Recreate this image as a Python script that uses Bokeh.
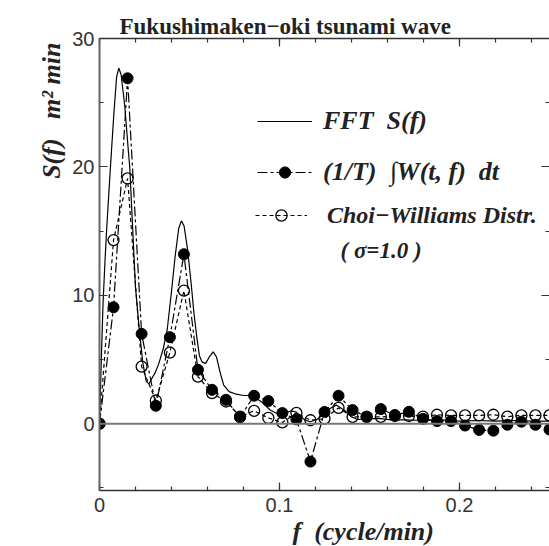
from bokeh.plotting import figure
from bokeh.models import (Range1d, LinearAxis, SingleIntervalTicker, NumeralTickFormatter,
                          CustomJSTickFormatter, Span, Label, Legend, LegendItem, Title)
from bokeh.embed import file_html
from bokeh.resources import INLINE

NB = "\u00a0"  # non-breaking space (SVG would collapse ordinary repeated spaces)

# ---------------- data ----------------
title_text = "Fukushimaken\u2212oki tsunami wave"
x_label_text = "f" + NB * 2 + "(cycle/min)"
y_label_text = "S(f)" + NB * 3 + "m\u00b2" + NB + "min"
legend_fft = "FFT" + NB * 2 + "S(f)"
legend_wig = "(1/T)" + NB * 2 + "\u222bW(t," + NB + "f)" + NB * 2 + "dt"
legend_choi = "Choi\u2212Williams Distr."
legend_sigma = "(" + NB + "\u03c3=1.0" + NB + ")"

# FFT spectrum (solid curve)
fft_f = [0.0, 0.001, 0.002, 0.003, 0.004, 0.006, 0.008, 0.0095, 0.0107, 0.012, 0.014,
         0.016, 0.0168, 0.0187, 0.020, 0.022, 0.024, 0.026, 0.0275, 0.029, 0.031, 0.033,
         0.0355, 0.0376, 0.040, 0.042, 0.044, 0.0455, 0.047, 0.049, 0.051, 0.0524, 0.054,
         0.0555, 0.057, 0.059, 0.061, 0.0632, 0.065, 0.067, 0.069, 0.072, 0.076, 0.080,
         0.085, 0.090, 0.095, 0.100, 0.1065, 0.1093, 0.114, 0.117, 0.121, 0.1283, 0.1315,
         0.136, 0.1398, 0.1435, 0.150, 0.156, 0.162, 0.170, 0.180, 0.190, 0.200, 0.210,
         0.220, 0.230, 0.240, 0.252]
fft_s = [0.0, 5.0, 9.5, 12.5, 15.2, 19.8, 24.2, 27.0, 27.7, 27.2, 24.8,
         21.3, 20.0, 14.4, 10.6, 7.5, 4.8, 3.3, 3.1, 3.5, 4.0, 4.7,
         5.9, 7.3, 10.3, 13.0, 15.2, 15.8, 15.4, 13.5, 10.8, 8.7, 6.8,
         5.3, 4.8, 4.7, 5.2, 5.6, 5.2, 4.0, 3.0, 2.5, 2.3, 2.2,
         2.2, 1.7, 1.05, 0.7, 1.0, 0.9, 0.3, 0.15, 0.35, 1.2, 1.45,
         1.05, 0.55, 0.33, 0.4, 0.4, 0.3, 0.3, 0.25, 0.3, 0.2, 0.25,
         0.2, 0.25, 0.2, 0.2]

# frequencies of the distribution estimates
dist_f = [0.0, 0.0078, 0.0156, 0.0234, 0.0313, 0.0391, 0.0469, 0.0547, 0.0625, 0.0703,
          0.0781, 0.0859, 0.0938, 0.1016, 0.1094, 0.1172, 0.125, 0.1328, 0.1406, 0.1484,
          0.1563, 0.1641, 0.1719, 0.1797, 0.1875, 0.1953, 0.2031, 0.2109, 0.2188, 0.2266,
          0.2344, 0.2422, 0.25]
# (1/T) integral of Wigner distribution (filled circles)
wigner_s = [0.0, 9.07, 26.9, 7.0, 1.4, 6.74, 13.2, 4.2, 2.64, 1.86,
            0.5, 2.18, 1.77, 0.83, 0.34, -2.95, 0.92, 2.18, 1.06, 0.55,
            1.14, 0.68, 0.93, 0.38, 0.21, 0.21, -0.14, -0.48, -0.54, -0.08,
            0.16, -0.08, -0.45]
# Choi-Williams distribution (open circles)
choi_s = [0.0, 14.3, 19.1, 4.45, 1.81, 5.54, 10.36, 3.67, 2.39, 1.73,
          0.55, 1.0, 0.45, 0.1, 0.84, 0.27, 0.4, 1.23, 0.53, 0.53,
          0.53, 0.6, 0.6, 0.55, 0.7, 0.65, 0.65, 0.65, 0.7, 0.55,
          0.65, 0.65, 0.65]

SERIF = "Liberation Serif"
SANS = "Liberation Sans"

p = figure(width=549, height=546, x_range=Range1d(0, 0.25), y_range=Range1d(-5.2, 30),
           output_backend="svg", toolbar_location=None,
           x_axis_location=None, y_axis_location=None,
           min_border_left=99, min_border_right=0, min_border_top=38, min_border_bottom=56)
p.outline_line_color = None
p.grid.visible = False
p.background_fill_color = "white"
p.border_fill_color = "white"

# title
p.title.text = title_text
p.title.align = "left"
p.title.offset = 20
p.title.standoff = 0
p.title.text_font = SERIF
p.title.text_font_style = "bold"
p.title.text_font_size = "23px"
p.title.text_color = "#222222"

blank = CustomJSTickFormatter(code="return ''")


def style_axis(ax, labels=True):
    ax.major_tick_in = 8
    ax.major_tick_out = 0
    ax.minor_tick_in = 4
    ax.minor_tick_out = 0
    ax.major_tick_line_color = "#333333"
    ax.minor_tick_line_color = "#333333"
    ax.major_tick_line_width = 1.2
    ax.minor_tick_line_width = 1.2
    ax.axis_line_color = "#333333"
    ax.axis_line_width = 1.5
    if labels:
        ax.major_label_text_font = SANS
        ax.major_label_text_font_size = "20px"
        ax.major_label_text_color = "#333333"
    else:
        ax.formatter = blank
        ax.major_label_standoff = 0


bottom = LinearAxis(ticker=SingleIntervalTicker(interval=0.1, num_minor_ticks=5),
                    formatter=NumeralTickFormatter(format="0.[0]"))
style_axis(bottom)
bottom.major_label_standoff = 7
top = LinearAxis(ticker=SingleIntervalTicker(interval=0.1, num_minor_ticks=5))
style_axis(top, labels=False)
left = LinearAxis(ticker=SingleIntervalTicker(interval=10, num_minor_ticks=2))
style_axis(left)
left.major_label_standoff = 5
left.axis_line_color = "#666666"
left.axis_line_width = 2
right = LinearAxis(ticker=SingleIntervalTicker(interval=10, num_minor_ticks=2))
style_axis(right, labels=False)
right.axis_line_color = None
p.add_layout(bottom, "below")
p.add_layout(top, "above")
p.add_layout(left, "left")
p.add_layout(right, "right")

# axis titles
p.add_layout(Title(text=y_label_text, align="right", offset=4, standoff=8,
                   text_font=SERIF, text_font_style="bold italic", text_font_size="26px",
                   text_color="#222222"), "left")
p.add_layout(Title(text=x_label_text, align="left", offset=193, standoff=0,
                   text_font=SERIF, text_font_style="bold italic", text_font_size="26px",
                   text_color="#222222"), "below")

p.add_layout(Span(location=0, dimension="width", line_color="#777777", line_width=2))

# series
r_choi_line = p.line(dist_f, choi_s, line_color="black", line_width=1.2, line_dash="4 3")
r_wig_line = p.line(dist_f, wigner_s, line_color="black", line_width=1.2, line_dash="10 3 3 3")
r_fft = p.line(fft_f, fft_s, line_color="black", line_width=1.2)
r_wig_pts = p.scatter(dist_f, wigner_s, marker="circle", size=11,
                      fill_color="black", line_color="black")
r_choi_pts = p.scatter(dist_f, choi_s, marker="circle", size=11,
                       fill_color=None, line_color="black", line_width=1.3)

# legends
leg1 = Legend(items=[LegendItem(label=legend_fft, renderers=[r_fft]),
                     LegendItem(label=legend_wig, renderers=[r_wig_line, r_wig_pts])],
              location=(158, 303), padding=0, margin=0, spacing=21,
              glyph_width=55, glyph_height=28, label_height=28, label_standoff=11,
              border_line_color=None, background_fill_alpha=0,
              label_text_font=SERIF, label_text_font_style="bold italic",
              label_text_font_size="26px", label_text_color="#222222")
leg2 = Legend(items=[LegendItem(label=legend_choi, renderers=[r_choi_line, r_choi_pts])],
              location=(156, 261), padding=0, margin=0,
              glyph_width=52, glyph_height=28, label_height=28, label_standoff=20,
              border_line_color=None, background_fill_alpha=0,
              label_text_font=SERIF, label_text_font_style="bold italic",
              label_text_font_size="24px", label_text_color="#222222")
p.add_layout(leg1, "center")
p.add_layout(leg2, "center")

p.add_layout(Label(x=0.1339, y=13.5, text=legend_sigma, text_font=SERIF,
                   text_font_style="bold italic", text_font_size="23px",
                   text_baseline="alphabetic", text_color="#222222"))

open("out.html", "w").write(file_html(p, INLINE))
